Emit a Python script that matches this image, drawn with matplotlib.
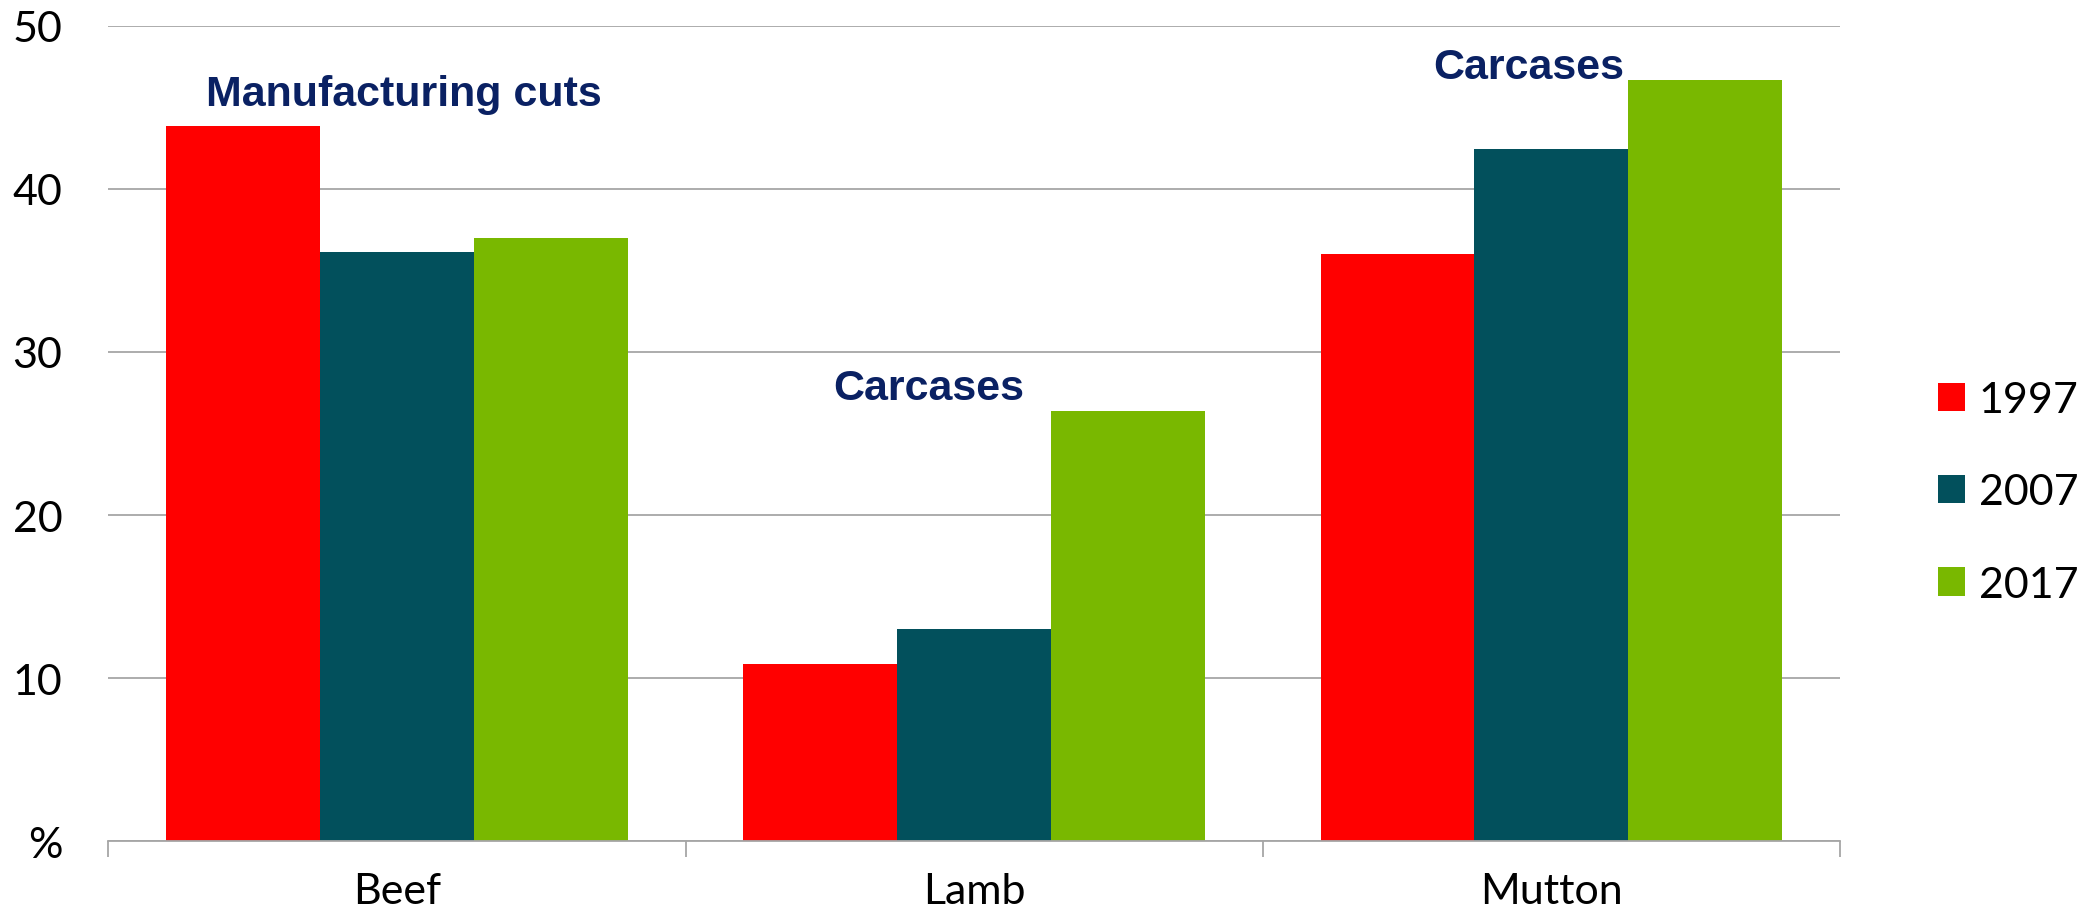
import matplotlib.pyplot as plt
import numpy as np
from matplotlib.patches import Patch

# Share of exports by product type (%)
categories = ['Beef', 'Lamb', 'Mutton']
years = ['1997', '2007', '2017']
values_1997 = [43.84, 10.9, 36.0]
values_2007 = [36.1, 13.0, 42.45]
values_2017 = [37.0, 26.4, 46.7]

y_ticks = [0, 10, 20, 30, 40, 50]
y_tick_labels = ['%', '10', '20', '30', '40', '50']

# Notes above groups: (x in category units, y, text)
notes = [(0.012, 45.16, 'Manufacturing cuts'),
         (0.922, 27.12, 'Carcases'),
         (1.961, 46.8, 'Carcases')]

colors = ['#FF0000', '#02505C', '#79B800']
grid_color = '#A6A6A6'
note_color = '#0A2163'

fig = plt.figure(figsize=(20.89, 9.12), dpi=100)
ax = fig.add_axes([0.05184, 0.0764, 0.8290, 0.8943])

# Bars
x = np.arange(len(categories))
w = 0.8 / 3
for i, vals in enumerate([values_1997, values_2007, values_2017]):
    ax.bar(x + (i - 1) * w, vals, w, color=colors[i], linewidth=0, zorder=3)

ax.set_xlim(-0.5, 2.5)
ax.set_ylim(0, 50)

# Gridlines
ax.set_yticks(y_ticks)
ax.set_yticklabels(y_tick_labels, family='Lato', fontsize=31)
ax.yaxis.grid(True, color=grid_color, linewidth=1.3, zorder=0)
ax.tick_params(axis='y', length=0, pad=33)

# Category labels with tick marks between groups
ax.set_xticks(x)
ax.set_xticklabels(categories, family='Lato', fontsize=31)
ax.set_xticks([-0.5, 0.5, 1.5, 2.5], minor=True)
ax.tick_params(axis='x', which='major', length=0, pad=22)
ax.tick_params(axis='x', which='minor', length=11.5, width=1.3, color=grid_color)

for side in ['left', 'right', 'top']:
    ax.spines[side].set_visible(False)
ax.spines['bottom'].set_color(grid_color)
ax.spines['bottom'].set_linewidth(1.3)
ax.spines['bottom'].set_zorder(4)

# Notes
for nx, ny, txt in notes:
    ax.text(nx, ny, txt, ha='center', va='baseline', family='Liberation Sans',
            fontweight='bold', fontsize=31, color=note_color)

# Legend
handles = [Patch(facecolor=c, edgecolor='none') for c in colors]
fig.legend(handles, years, loc='center left', bbox_to_anchor=(0.9277, 0.459),
           bbox_transform=fig.transFigure, frameon=False, prop={'family': 'Lato', 'size': 31},
           handlelength=0.63, handleheight=0.63, handletextpad=0.32,
           labelspacing=1.26, borderpad=0, borderaxespad=0)

plt.savefig('out.png', dpi=100)
